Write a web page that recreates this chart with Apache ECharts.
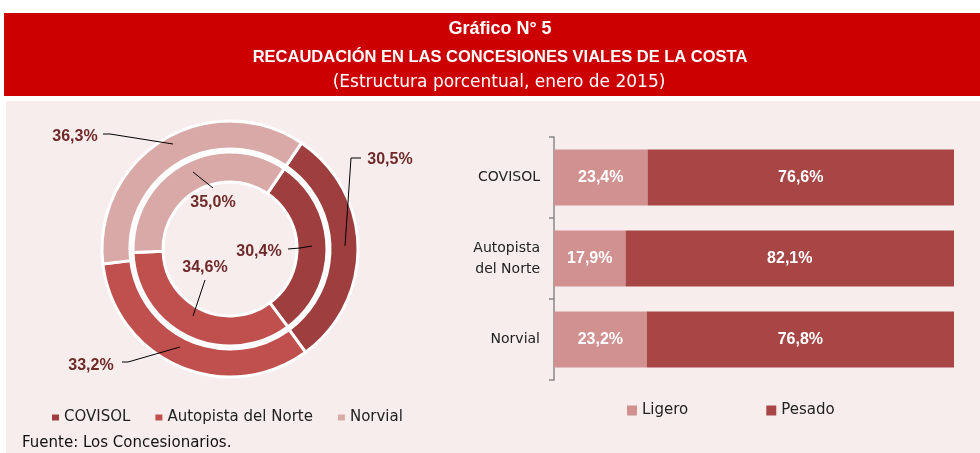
<!DOCTYPE html>
<html>
<head>
<meta charset="utf-8">
<script src="https://cdn.jsdelivr.net/npm/echarts@6/dist/echarts.min.js"></script>
<style>
  html, body { margin: 0; padding: 0; background: #fff; }
  #main { width: 980px; height: 453px; }
</style>
</head>
<body>
<div id="main"></div>
<script>
// datos
var empresas = ['COVISOL', 'Autopista del Norte', 'Norvial'];
var part2015 = [30.5, 33.2, 36.3];
var part2014 = [30.4, 34.6, 35.0];
var vias = ['COVISOL', 'Autopista\ndel Norte', 'Norvial'];
var ligero = [23.4, 17.9, 23.2];
var pesado = [76.6, 82.1, 76.8];

var coloresAnillo = ['#9e3e3e', '#c0504d', '#d9a9a8'];
var colorTexto = '#6e2a2a';

// posicion de etiquetas del anillo (texto + linea guia)
var etq2015 = [
	{ x: 390, y: 160, line: [[345, 246], [351, 158], [361, 158]] },
	{ x: 91, y: 366, line: [[180, 347], [128, 362], [122, 362]] },
	{ x: 75, y: 137, line: [[173, 144], [110, 134], [103, 134]] }
];
var etq2014 = [
	{ x: 259, y: 252, line: [[312, 246], [300, 248], [288, 249]] },
	{ x: 205, y: 268, line: [[193, 316], [199, 298], [205, 280]] },
	{ x: 213, y: 203, line: [[193, 172], [203, 180], [213, 188]] }
];

function pct(v) {
	return v.toFixed(1).replace('.', ',') + '%';
}

function anillo(nombre, valores, radio, etq) {
	return {
		name: nombre,
		type: 'pie',
		center: [230, 249],
		radius: radio,
		startAngle: 56,
		clockwise: true,
		avoidLabelOverlap: false,
		silent: true,
		itemStyle: { borderColor: '#fff', borderWidth: 3 },
		label: {
			show: true,
			position: 'outside',
			formatter: function(p) { return pct(p.value); },
			color: colorTexto,
			fontFamily: 'Liberation Sans',
			fontWeight: 'bold',
			fontSize: 16
		},
		labelLine: { show: false },
		labelLayout: function(p) {
			var e = etq[p.dataIndex];
			return { x: e.x, y: e.y, align: 'center', verticalAlign: 'middle' };
		},
		data: valores.map(function(v, i) {
			return { name: empresas[i], value: v, itemStyle: { color: coloresAnillo[i] } };
		})
	};
}

// lineas guia
var guias = etq2015.concat(etq2014).map(function(e) {
	return { type: 'polyline', z: 100, shape: { points: e.line }, style: { stroke: '#000', lineWidth: 1, fill: null } };
});

var myChart = echarts.init(document.getElementById('main'), null, { renderer: 'canvas' });

myChart.setOption({
	animation: false,
	graphic: [
		{ type: 'rect', shape: { x: 4, y: 13, width: 976, height: 83 }, style: { fill: '#cc0000' }, z: -10 },
		{ type: 'rect', shape: { x: 6, y: 101, width: 974, height: 352 }, style: { fill: '#f8eded' }, z: -10 },
		{ type: 'text', x: 500, y: 29, style: { text: 'Gráfico N° 5', fill: '#fff', font: 'bold 18px "Liberation Sans"', textAlign: 'center', textVerticalAlign: 'middle' } },
		{ type: 'text', x: 500, y: 57, style: { text: 'RECAUDACIÓN EN LAS CONCESIONES VIALES DE LA COSTA', fill: '#fff', font: 'bold 16.5px "Liberation Sans"', textAlign: 'center', textVerticalAlign: 'middle' } },
		{ type: 'text', x: 499, y: 83, style: { text: '(Estructura porcentual, enero de 2015)', fill: '#fff', font: '17px "DejaVu Sans"', textAlign: 'center', textVerticalAlign: 'middle' } },
		{ type: 'text', x: 232, y: 131, style: { text: '2015', fill: '#7b2b2b', font: 'bold 19px "Liberation Sans"', textAlign: 'center', textVerticalAlign: 'middle' } },
		{ type: 'text', x: 232, y: 163, style: { text: '2014', fill: '#7b2b2b', font: 'bold 19px "Liberation Sans"', textAlign: 'center', textVerticalAlign: 'middle' } },
		{ type: 'text', x: 22, y: 443, style: { text: 'Fuente: Los Concesionarios.', fill: '#111', font: '15px "DejaVu Sans"', textAlign: 'left', textVerticalAlign: 'middle' } }
	].concat(guias),
	legend: [
		{
			data: empresas,
			left: 47,
			top: 405,
			icon: 'rect',
			itemWidth: 7,
			itemHeight: 6,
			itemGap: 25,
			selectedMode: false,
			itemStyle: { borderWidth: 0 },
			textStyle: { color: '#222', fontFamily: 'DejaVu Sans', fontSize: 15 }
		},
		{
			data: ['Ligero', 'Pesado'],
			left: 622,
			top: 398,
			icon: 'rect',
			itemWidth: 10,
			itemHeight: 10,
			itemGap: 78,
			selectedMode: false,
			textStyle: { color: '#222', fontFamily: 'DejaVu Sans', fontSize: 15 }
		}
	],
	grid: { left: 554, right: 26, top: 137, bottom: 73, containLabel: false },
	xAxis: { type: 'value', min: 0, max: 100, show: false },
	yAxis: {
		type: 'category',
		data: vias,
		inverse: true,
		axisLine: { show: true, lineStyle: { color: '#888', width: 1.5 } },
		axisTick: { show: true, length: 5, lineStyle: { color: '#888', width: 1.5 } },
		axisLabel: { color: '#222', fontFamily: 'DejaVu Sans', fontSize: 14, lineHeight: 21, margin: 14 },
		splitLine: { show: false }
	},
	series: [
		anillo('2015', part2015, [100, 128], etq2015),
		anillo('2014', part2014, [67, 97], etq2014),
		{
			name: 'Ligero',
			type: 'bar',
			stack: 'total',
			barWidth: 56,
			silent: true,
			itemStyle: { color: '#d29191' },
			label: { show: true, position: 'inside', formatter: function(p) { return pct(p.value); }, color: '#fff', fontFamily: 'Liberation Sans', fontWeight: 'bold', fontSize: 16 },
			data: ligero
		},
		{
			name: 'Pesado',
			type: 'bar',
			stack: 'total',
			barWidth: 56,
			silent: true,
			itemStyle: { color: '#a84646' },
			label: { show: true, position: 'inside', formatter: function(p) { return pct(p.value); }, color: '#fff', fontFamily: 'Liberation Sans', fontWeight: 'bold', fontSize: 16 },
			data: pesado
		}
	]
});
</script>
</body>
</html>
